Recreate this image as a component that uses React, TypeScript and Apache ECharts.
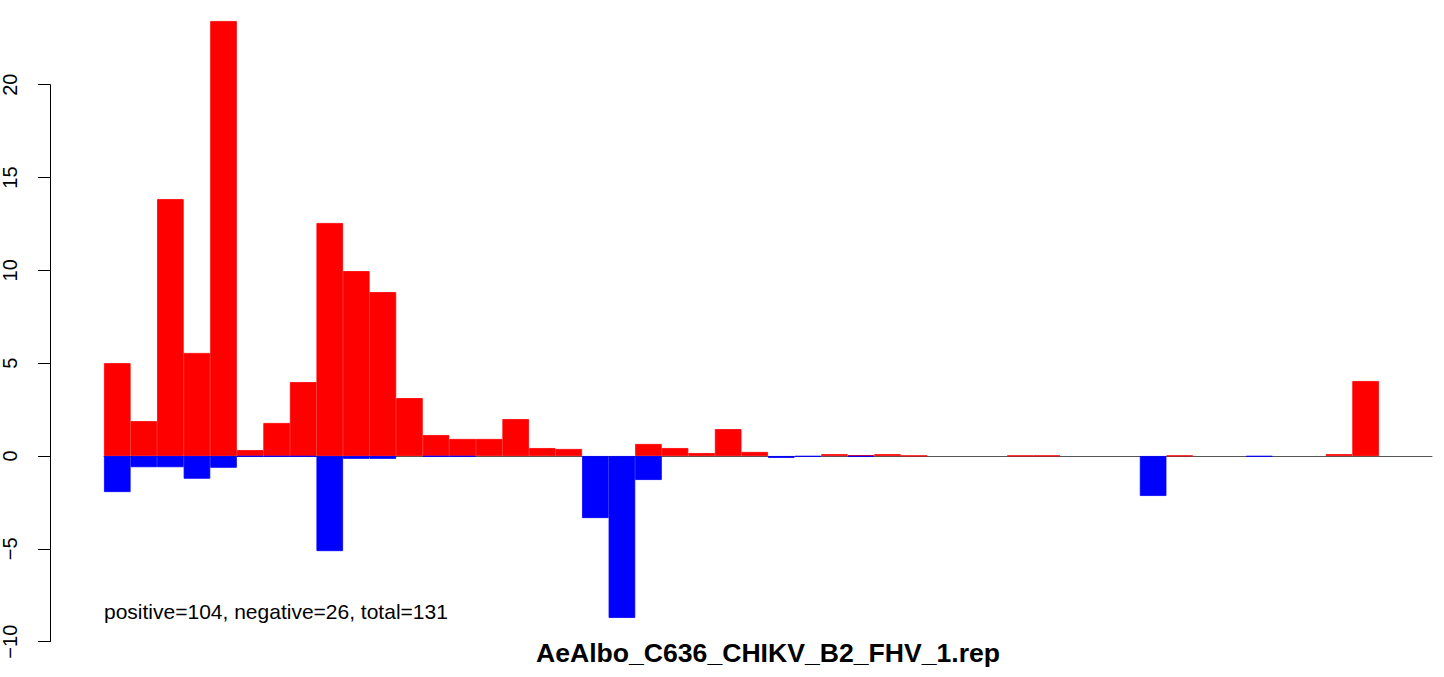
import React, { useEffect, useRef } from "react";
import * as echarts from "echarts";

const categories: string[] = Array.from({ length: 50 }, (_, i) => String(i + 1));

const positiveValues: number[] = [
  5.0, 1.88, 13.84, 5.55, 23.43, 0.32, 1.78, 3.98, 12.55, 9.96,
  8.83, 3.12, 1.13, 0.92, 0.92, 1.99, 0.43, 0.38, 0, 0,
  0.65, 0.43, 0.16, 1.45, 0.22, 0, 0, 0.1, 0.05, 0.1,
  0.02, 0, 0, 0, 0.02, 0.02, 0, 0, 0, 0,
  0.02, 0, 0, 0, 0, 0, 0.1, 4.04, 0, 0,
];

const negativeValues: number[] = [
  -1.94, -0.6, -0.6, -1.22, -0.63, -0.03, -0.03, -0.03, -5.12, -0.15,
  -0.15, 0, -0.03, -0.03, 0, 0, 0, 0, -3.34, -8.72,
  -1.29, 0, 0, 0, 0, -0.1, -0.03, 0, -0.03, 0,
  0, 0, 0, 0, 0, 0, 0, 0, 0, -2.15,
  0, 0, 0, -0.03, 0, 0, 0, 0, 0, 0,
];

const yMin = -10;
const yMax = 20;
const yInterval = 5;

const titleText = "AeAlbo_C636_CHIKV_B2_FHV_1.rep";
const summaryText = "positive=104, negative=26, total=131";

const FONT = "'Liberation Sans', Arial, Helvetica, sans-serif";

const nonZero = (arr: number[]) => arr.map((v) => (v === 0 ? null : v));

export default function App() {
  const ref = useRef<HTMLDivElement>(null);

  useEffect(() => {
    if (!ref.current) return;
    const chart = echarts.init(ref.current, undefined, { renderer: "svg" });
    chart.setOption({
      animation: false,
      backgroundColor: "#ffffff",
      grid: { left: 104, right: 12, top: 84.7, bottom: 35.3, containLabel: false },
      xAxis: {
        type: "category",
        data: categories,
        boundaryGap: true,
        axisLine: { show: true, onZero: true, lineStyle: { color: "#555555", width: 1 } },
        axisTick: { show: false },
        axisLabel: { show: false },
        splitLine: { show: false },
        z: 1,
      },
      yAxis: {
        type: "value",
        min: yMin,
        max: yMax,
        interval: yInterval,
        offset: 54,
        axisLine: { show: true, lineStyle: { color: "#000000", width: 1 } },
        axisTick: { show: true, length: 12, lineStyle: { color: "#000000", width: 1 } },
        axisLabel: {
          show: true,
          rotate: 90,
          margin: 30,
          color: "#000000",
          fontSize: 20,
          fontFamily: FONT,
          formatter: (v: number) => String(v).replace("-", "\u2212"),
        },
        splitLine: { show: false },
      },
      series: [
        {
          name: "positive",
          type: "bar",
          data: nonZero(positiveValues),
          barWidth: "100%",
          barGap: "-100%",
          clip: false,
          itemStyle: { color: "#ff0000", borderColor: "#ff0000", borderWidth: 0.8 },
          z: 2,
        },
        {
          name: "negative",
          type: "bar",
          data: nonZero(negativeValues),
          barWidth: "100%",
          barGap: "-100%",
          clip: false,
          itemStyle: { color: "#0000ff", borderColor: "#0000ff", borderWidth: 0.8 },
          z: 3,
        },
      ],
      graphic: [
        {
          type: "text",
          left: 104,
          top: 601,
          style: {
            text: summaryText,
            fill: "#000000",
            font: `21px ${FONT}`,
          },
        },
        {
          type: "text",
          x: 768,
          y: 639,
          style: {
            text: titleText,
            fill: "#000000",
            font: `bold 26.6px ${FONT}`,
            textAlign: "center",
            textVerticalAlign: "top",
          },
        },
      ],
    });
    return () => chart.dispose();
  }, []);

  return (
    <div
      ref={ref}
      style={{ position: "fixed", left: 0, top: 0, width: 1444, height: 677, background: "#fff" }}
    />
  );
}
